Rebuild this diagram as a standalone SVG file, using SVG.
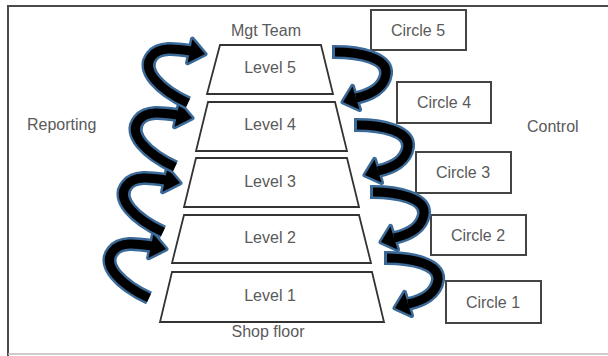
<svg xmlns="http://www.w3.org/2000/svg" xmlns:xlink="http://www.w3.org/1999/xlink" width="608" height="356" viewBox="0 0 608 356">
<style>
.frame{fill:none;stroke:#4a4a4a;stroke-width:2}
.trap{fill:#fff;stroke:#333;stroke-width:1.8;stroke-linejoin:miter}
.box{fill:#fff;stroke:#444;stroke-width:2}
.t{font-family:"Liberation Sans",Arial,sans-serif;font-size:16px;fill:#5a5a5a;text-anchor:middle}
.tl{font-family:"Liberation Sans",Arial,sans-serif;font-size:16px;fill:#5a5a5a}
.ol{fill:none;stroke:#3b6a99;stroke-width:14}
.oh{fill:#3b6a99;stroke:#3b6a99;stroke-width:5;stroke-linejoin:round}
.cl{fill:none;stroke:#000;stroke-width:9}
.ch{fill:#000}
</style>
<defs>
<g id="arrowUp">
<path class="ol" d="M -17,49 C -45,36 -65,16 -53,2 C -45,-8 -28,-5 -14,-3"/>
<polygon class="oh" points="0,0 -12.6,-14.8 -17.4,8.8"/>
<path class="cl" d="M -17,49 C -45,36 -65,16 -53,2 C -45,-8 -28,-5 -14,-3"/>
<polygon class="ch" points="0,0 -12.6,-14.8 -17.4,8.8"/>
</g>
<g id="arrowDown">
<path class="ol" d="M -3,0 L 0,0 C 25,0 53,6 51,22 C 49,36 35,43 21,46"/>
<polygon class="oh" points="8,50 17.5,34.5 24.5,57.5"/>
<path class="cl" d="M 0,0 C 25,0 53,6 51,22 C 49,36 35,43 21,46"/>
<polygon class="ch" points="8,50 17.5,34.5 24.5,57.5"/>
</g>
</defs>
<rect x="0" y="0" width="608" height="356" fill="#fff"/>
<path class="frame" d="M 8,356 L 8,6 L 608,6"/>
<line x1="8" y1="354" x2="608" y2="354" stroke="#bbb" stroke-width="1.5"/>

<g id="level5"><polygon class="trap" points="220,45 321,45 333,94 207,94"/><text class="t" x="270" y="73">Level 5</text></g>
<g id="level4"><polygon class="trap" points="208,102 335,102 347,151 196,151"/><text class="t" x="270" y="130">Level 4</text></g>
<g id="level3"><polygon class="trap" points="196,158 347,158 359,207 184,207"/><text class="t" x="270" y="187">Level 3</text></g>
<g id="level2"><polygon class="trap" points="184,215 359,215 371,263 172,263"/><text class="t" x="270" y="243">Level 2</text></g>
<g id="level1"><polygon class="trap" points="172,272 372,272 384,322 160,322"/><text class="t" x="270" y="301">Level 1</text></g>

<g id="mgt-team"><text class="t" x="266" y="36">Mgt Team</text></g>
<g id="shop-floor"><text class="t" x="268" y="337">Shop floor</text></g>
<g id="reporting"><text class="tl" x="27" y="130">Reporting</text></g>
<g id="control"><text class="tl" x="527" y="132">Control</text></g>

<g id="circle5"><rect class="box" x="371" y="10" width="95" height="40"/><text class="t" x="418" y="36">Circle 5</text></g>
<g id="circle4"><rect class="box" x="397" y="82" width="94" height="41"/><text class="t" x="444" y="108">Circle 4</text></g>
<g id="circle3"><rect class="box" x="416" y="152" width="95" height="41"/><text class="t" x="463" y="178">Circle 3</text></g>
<g id="circle2"><rect class="box" x="431" y="215" width="95" height="40"/><text class="t" x="478" y="241">Circle 2</text></g>
<g id="circle1"><rect class="box" x="446" y="281" width="95" height="42"/><text class="t" x="493" y="308">Circle 1</text></g>

<g id="connectors">
<use xlink:href="#arrowUp" transform="translate(166,249)"/>
<use xlink:href="#arrowUp" transform="translate(180,183)"/>
<use xlink:href="#arrowUp" transform="translate(192,118)"/>
<use xlink:href="#arrowUp" transform="translate(205,54)"/>
<use xlink:href="#arrowDown" transform="translate(335,52)"/>
<use xlink:href="#arrowDown" transform="translate(357,125)"/>
<use xlink:href="#arrowDown" transform="translate(373,192)"/>
<use xlink:href="#arrowDown" transform="translate(387,258)"/>
</g>
</svg>
